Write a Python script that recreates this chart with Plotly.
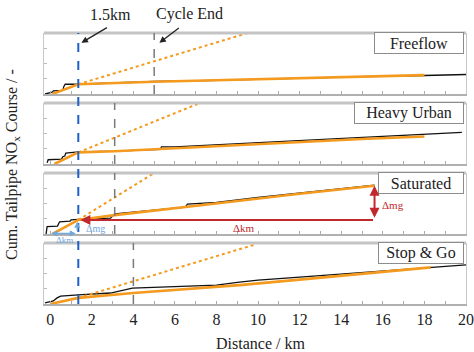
import plotly.graph_objects as go
from plotly.subplots import make_subplots

# ---------------- data ----------------
panel_names = ["Freeflow", "Heavy Urban", "Saturated", "Stop & Go"]
cycle_end_km = [5.0, 3.1, 3.1, 4.0]
mark_km = 1.35

# Freeflow
ff_black_km = [-0.25, 0.1, 0.15, 0.6, 0.65, 0.72, 1.35, 3, 5, 8, 10, 13, 15, 17, 18, 20]
ff_black_y = [0.0, 0.03, 0.05, 0.06, 0.12, 0.16, 0.16, 0.185, 0.205, 0.225, 0.245, 0.265, 0.285, 0.295, 0.305, 0.32]
ff_orange_km = [0.1, 1.35, 5, 9, 14, 16, 18]
ff_orange_y = [0.0, 0.16, 0.20, 0.235, 0.28, 0.30, 0.31]
ff_dot_km = [1.35, 9.5]
ff_dot_y = [0.16, 1.0]

# Heavy Urban
hu_black_km = [-0.15, -0.1, 0.55, 0.6, 0.7, 0.75, 1.35, 3.1, 5.3, 5.35, 6, 8.85, 12, 16, 18, 19.8]
hu_black_y = [0.02, 0.07, 0.08, 0.12, 0.13, 0.18, 0.20, 0.21, 0.24, 0.28, 0.28, 0.33, 0.39, 0.46, 0.49, 0.52]
hu_orange_km = [0.2, 1.35, 3.1, 6, 9, 12, 15, 18]
hu_orange_y = [0.0, 0.19, 0.21, 0.26, 0.31, 0.36, 0.41, 0.45]
hu_dot_km = [1.35, 7.2]
hu_dot_y = [0.19, 1.0]

# Saturated
sa_black_km = [-0.2, -0.15, 0.35, 0.45, 0.95, 1.0, 1.35, 2.9, 3.1, 5, 6.5, 6.6, 8, 10, 12, 14, 15.6]
sa_black_y = [0.0, 0.12, 0.13, 0.20, 0.21, 0.23, 0.24, 0.26, 0.33, 0.39, 0.44, 0.49, 0.52, 0.60, 0.67, 0.74, 0.80]
sa_orange_km = [0.1, 1.35, 3.1, 6, 9, 12, 15.6]
sa_orange_y = [0.0, 0.23, 0.31, 0.42, 0.54, 0.66, 0.79]
sa_dot_km = [1.35, 5.0]
sa_dot_y = [0.23, 1.0]

# Stop & Go
sg_black_km = [-0.25, 0.15, 0.33, 0.5, 1.35, 2.9, 3.95, 6, 8, 9.1, 10, 12, 14, 16, 18, 20]
sg_black_y = [0.02, 0.05, 0.10, 0.13, 0.15, 0.18, 0.26, 0.28, 0.31, 0.36, 0.39, 0.44, 0.49, 0.54, 0.60, 0.64]
sg_orange_km = [0.0, 1.35, 4, 6, 9.1, 12, 14, 16, 18.3]
sg_orange_y = [0.0, 0.10, 0.18, 0.23, 0.31, 0.40, 0.46, 0.53, 0.60]
sg_dot_km = [1.35, 9.9]
sg_dot_y = [0.10, 0.98]

x_tick_vals = [0, 2, 4, 6, 8, 10, 12, 14, 16, 18, 20]

# ---------------- styles ----------------
FONT = "Liberation Serif"
ORANGE = "#F39A1F"
BLACK = "#111111"
BLUE = "#1F5FC8"
LBLUE = "#6FA8DC"
RED = "#C0282D"
GRAY = "#7A7A7A"
TXT = "#222222"

W, H = 474, 352
ML, MR, MT, MB = 44, 8, 33, 48
PW, PH = W - ML - MR, H - MT - MB

fig = make_subplots(rows=4, cols=1, shared_xaxes=True, vertical_spacing=9 / PH)

panels = [
    (ff_black_km, ff_black_y, ff_orange_km, ff_orange_y, ff_dot_km, ff_dot_y),
    (hu_black_km, hu_black_y, hu_orange_km, hu_orange_y, hu_dot_km, hu_dot_y),
    (sa_black_km, sa_black_y, sa_orange_km, sa_orange_y, sa_dot_km, sa_dot_y),
    (sg_black_km, sg_black_y, sg_orange_km, sg_orange_y, sg_dot_km, sg_dot_y),
]

for i, (bx, by, ox, oy, dx, dy) in enumerate(panels):
    r = i + 1
    fig.add_trace(go.Scatter(x=bx, y=by, mode="lines", line=dict(color=BLACK, width=1.3),
                             showlegend=False, hoverinfo="skip"), row=r, col=1)
    fig.add_trace(go.Scatter(x=ox, y=oy, mode="lines", line=dict(color=ORANGE, width=2.6),
                             showlegend=False, hoverinfo="skip"), row=r, col=1)
    fig.add_trace(go.Scatter(x=dx, y=dy, mode="lines", line=dict(color=ORANGE, width=2, dash="dot"),
                             showlegend=False, hoverinfo="skip"), row=r, col=1)

for r in range(1, 5):
    fig.update_xaxes(range=[-0.3, 20], automargin=False, showline=True, linecolor="#B0B0B0", linewidth=1.5,
                     mirror=False, ticks="inside", ticklen=3, tickcolor="#AAAAAA",
                     tickvals=x_tick_vals, minor=dict(ticks="inside", dtick=1, ticklen=3, tickcolor="#AAAAAA"),
                     showgrid=False, zeroline=False,
                     tickfont=dict(family=FONT, size=16, color=TXT), row=r, col=1)
    fig.update_yaxes(range=[0, 1], automargin=False, showline=True, linecolor="#C8C8C8", linewidth=1, mirror=True,
                     ticks="inside", ticklen=3, dtick=0.25, tickcolor="#BBBBBB",
                     showticklabels=False, showgrid=False, zeroline=False, row=r, col=1)

shapes = []
annotations = []
box_widths = [86, 106, 82, 82]
for i in range(4):
    xn = "x" if i == 0 else f"x{i+1}"
    yn = "y" if i == 0 else f"y{i+1}"
    shapes.append(dict(type="line", xref=f"{xn} domain", yref=f"{yn} domain", x0=0, x1=1, y0=1, y1=1,
                       line=dict(color="#C4C4C4", width=3)))
    shapes.append(dict(type="line", xref=xn, yref=f"{yn} domain", x0=cycle_end_km[i], x1=cycle_end_km[i],
                       y0=0, y1=1, line=dict(color=GRAY, width=1.5, dash="dash")))
    annotations.append(dict(text=panel_names[i], xref=f"{xn} domain", yref=f"{yn} domain",
                            x=1, y=1, xanchor="right", yanchor="top", xshift=-2, yshift=1,
                            showarrow=False, width=box_widths[i], height=18,
                            bordercolor="#8C8C8C", borderwidth=1, borderpad=1, bgcolor="white",
                            font=dict(family=FONT, size=16, color=TXT)))

shapes.append(dict(type="line", xref="x", yref="paper", x0=mark_km, x1=mark_km, y0=0, y1=1,
                   line=dict(color=BLUE, width=2, dash="dash"), layer="above"))


def px_x(p):
    return (p - ML) / PW


def px_y(p):
    return (H - MB - p) / PH


annotations += [
    dict(text="1.5km", xref="paper", yref="paper", x=px_x(110), y=px_y(14), xanchor="center",
         yanchor="middle", showarrow=False, font=dict(family=FONT, size=16, color=TXT)),
    dict(text="Cycle End", xref="paper", yref="paper", x=px_x(189), y=px_y(14), xanchor="center",
         yanchor="middle", showarrow=False, font=dict(family=FONT, size=16, color=TXT)),
    dict(text="", xref="x", yref="y", x=1.5, y=0.84, ax=27, ay=-16, showarrow=True,
         arrowhead=2, arrowsize=1, arrowwidth=1.3, arrowcolor=TXT),
    dict(text="", xref="x", yref="y", x=5.25, y=0.84, ax=21, ay=-16, showarrow=True,
         arrowhead=2, arrowsize=1, arrowwidth=1.3, arrowcolor=TXT),
]

annotations += [
    dict(text="", xref="x3", yref="y3", axref="x3", ayref="y3", x=1.45, y=0.23, ax=15.6, ay=0.23,
         showarrow=True, arrowhead=2, arrowsize=1, arrowwidth=2, arrowcolor=RED),
    dict(text="", xref="x3", yref="y3", axref="x3", ayref="y3", x=15.6, y=0.79, ax=15.6, ay=0.24,
         showarrow=True, arrowhead=2, arrowside="end+start", arrowsize=1, arrowwidth=2, arrowcolor=RED),
    dict(text="Δkm", xref="x3", yref="y3", x=9.3, y=0.1, showarrow=False,
         font=dict(family=FONT, size=11, color=RED)),
    dict(text="Δmg", xref="x3", yref="y3", x=16.5, y=0.48, showarrow=False,
         font=dict(family=FONT, size=11, color=RED)),
    dict(text="", xref="x3", yref="y3", axref="x3", ayref="y3", x=0.05, y=0.01, ax=1.3, ay=0.01,
         showarrow=True, arrowhead=2, arrowside="end+start", arrowsize=0.8, arrowwidth=1.5, arrowcolor=LBLUE),
    dict(text="", xref="x3", yref="y3", axref="x3", ayref="y3", x=1.3, y=0.2, ax=1.3, ay=0.03,
         showarrow=True, arrowhead=2, arrowsize=0.8, arrowwidth=1.5, arrowcolor=LBLUE),
    dict(text="Δmg", xref="x3", yref="y3", x=2.2, y=0.09, showarrow=False,
         font=dict(family=FONT, size=10, color=LBLUE)),
    dict(text="Δkm", xref="paper", yref="paper", x=px_x(64), y=px_y(240), xanchor="center",
         yanchor="middle", showarrow=False, font=dict(family=FONT, size=9, color=LBLUE)),
]

annotations += [
    dict(text="Cum. Tailpipe NO<sub>x</sub> Course / -", xref="paper", yref="paper",
         x=px_x(12), y=px_y(165), textangle=-90, showarrow=False,
         xanchor="center", yanchor="middle", font=dict(family=FONT, size=16, color=TXT)),
    dict(text="Distance / km", xref="paper", yref="paper", x=px_x(260), y=px_y(343),
         showarrow=False, xanchor="center", yanchor="middle",
         font=dict(family=FONT, size=16, color=TXT)),
]

fig.update_layout(width=W, height=H, margin=dict(l=ML, r=MR, t=MT, b=MB),
                  paper_bgcolor="white", plot_bgcolor="white",
                  shapes=shapes, annotations=annotations, showlegend=False)

fig.write_html("out.html")
